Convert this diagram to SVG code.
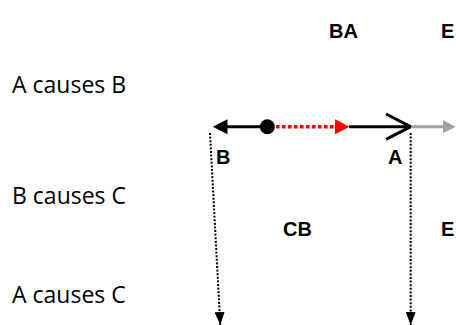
<svg xmlns="http://www.w3.org/2000/svg" width="456" height="325" viewBox="0 0 456 325">
  <style>
    .stmt { font-family: "Open Sans", "Liberation Sans", sans-serif; font-size: 23px; fill: #000; }
    .lbl { font-family: "Liberation Sans", Arial, sans-serif; font-weight: bold; font-size: 20px; fill: #000; }
    .solid { stroke: #000; stroke-width: 3; fill: none; }
    .dots { stroke: #000; stroke-width: 2; stroke-dasharray: 2 1.6; fill: none; }
  </style>
  <defs>
    <marker id="dropHead" viewBox="0 0 13 10" refX="13" refY="5" markerWidth="13" markerHeight="10" markerUnits="userSpaceOnUse" orient="auto">
      <path d="M0,0 L13,5 L0,10 Z" fill="#000"/>
    </marker>
  </defs>

  <rect width="456" height="325" fill="#fff"/>

  <!-- statements on the left -->
  <g id="stmt-ab"><text class="stmt" x="12" y="93">A causes B</text></g>
  <g id="stmt-bc"><text class="stmt" x="12" y="204">B causes C</text></g>
  <g id="stmt-ac"><text class="stmt" x="12" y="303">A causes C</text></g>

  <!-- column headings -->
  <g id="head-ba"><text class="lbl" x="329" y="38">BA</text></g>
  <g id="head-e1"><text class="lbl" x="441" y="38">E</text></g>
  <g id="head-cb"><text class="lbl" x="283" y="236">CB</text></g>
  <g id="head-e2"><text class="lbl" x="441" y="236">E</text></g>

  <!-- point labels -->
  <g id="node-b"><text class="lbl" x="216" y="164">B</text></g>
  <g id="node-a"><text class="lbl" x="388" y="164">A</text></g>

  <!-- origin dot -->
  <g id="node-dot"><circle cx="267.3" cy="126.7" r="7.5" fill="#000"/></g>

  <g id="connectors">
    <!-- dot to B -->
    <line class="solid" x1="267" y1="126.7" x2="225" y2="126.7"/>
    <path d="M212.7,126.7 L227.5,119.2 L227.5,134.2 Z" fill="#000"/>
    <!-- red dotted segment -->
    <line x1="276" y1="126.7" x2="336" y2="126.7" stroke="#ff0000" stroke-width="3.4" stroke-dasharray="3.6 2.4"/>
    <path d="M349.5,126.7 L335,119.2 L335,134.2 Z" fill="#ff0000"/>
    <!-- on to A, open head -->
    <line class="solid" x1="349" y1="126.7" x2="410" y2="126.7"/>
    <polyline class="solid" points="386,114 410.7,126.7 386,139.4" stroke-linejoin="miter"/>
    <!-- grey continuation -->
    <line x1="411" y1="126.7" x2="444" y2="126.7" stroke="#a0a0a0" stroke-width="3"/>
    <path d="M455.8,126.7 L443,120.2 L443,133.2 Z" fill="#a0a0a0"/>
    <!-- dotted drops -->
    <line class="dots" x1="210" y1="133" x2="220.3" y2="325" marker-end="url(#dropHead)"/>
    <line class="dots" x1="410.7" y1="133" x2="410.7" y2="325" marker-end="url(#dropHead)"/>
  </g>
</svg>
